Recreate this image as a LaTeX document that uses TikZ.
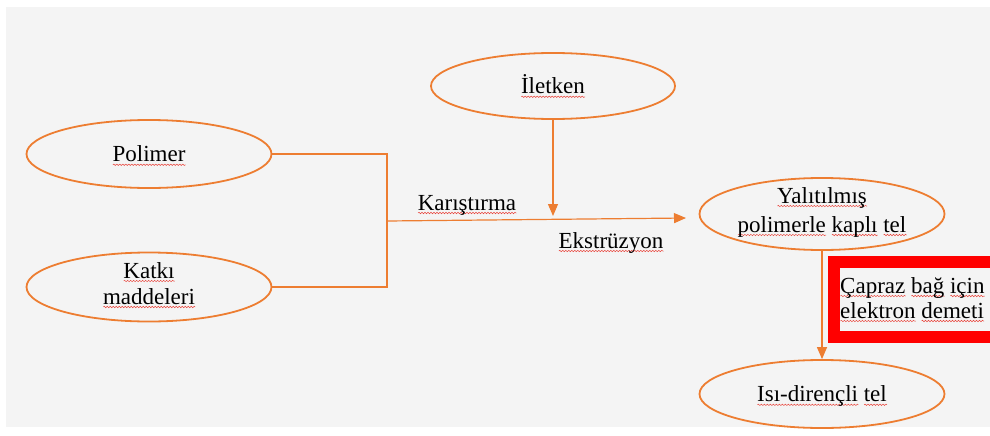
\documentclass[tikz,border=0pt]{standalone}
\usepackage{fontspec}
\setmainfont{Liberation Serif}
\usetikzlibrary{arrows.meta,shapes.geometric,decorations.pathmorphing}
\definecolor{bgray}{HTML}{F4F4F4}
\definecolor{orng}{HTML}{ED7D31}
\definecolor{sqred}{HTML}{E8453C}
\newsavebox\sqbox
\newcommand\sq[1]{\leavevmode\sbox\sqbox{#1}\edef\sqwd{\the\wd\sqbox}\rlap{\tikz[baseline=0pt]\draw[sqline] (0pt,-3pt) -- (\sqwd,-3pt);}\usebox\sqbox}
\tikzset{
  sqline/.style={draw=sqred, line width=0.5pt, decorate, decoration={snake, amplitude=0.7pt, segment length=3pt}},
  oval/.style={ellipse, draw=orng, line width=1.8pt, minimum width=245pt, minimum height=68pt, inner sep=0pt, align=center, font=\fontsize{23}{26}\selectfont},
  conn/.style={draw=orng, line width=1.2pt},
  arr/.style={conn, -{Triangle[length=12pt,width=10pt]}},
  lbl/.style={inner sep=0pt, anchor=base, font=\fontsize{23}{26}\selectfont},
}
\begin{document}
\begin{tikzpicture}[x=1pt,y=-1pt]
\useasboundingbox (0,0) rectangle (990,436);
\fill[bgray] (6,7) rectangle (990,427);
% red frame (open to the right)
\fill[red] (828,256) rectangle (990,268);
\fill[red] (828,331) rectangle (990,343);
\fill[red] (828,256) rectangle (840,343);
% ellipses
\node[oval, minimum width=244pt, minimum height=66pt] (ilet) at (553,86) {\smash{\sq{İletken}}\rule{0pt}{15.6pt}};
\node[oval] (pol) at (149,154) {\smash{\sq{Polimer}}\rule{0pt}{15.6pt}};
\node[oval, minimum height=69pt, font=\fontsize{23}{26}\selectfont] (kat) at (149,287) {\smash{\sq{Katkı}}\rule{0pt}{8pt}\\\smash{\sq{maddeleri}}};
\node[oval, minimum height=72pt, font=\fontsize{23}{29}\selectfont] (yal) at (822,214) {\smash{\sq{Yalıtılmış}}\rule{0pt}{7pt}\\\smash{\sq{polimerle} \sq{kaplı} \sq{tel}}};
\node[oval] (isi) at (822,394) {\smash{\sq{Isı-dirençli} \sq{tel}}\rule{0pt}{15.6pt}};
% connector points
\coordinate (j) at (387,221);
\coordinate (mixend) at (686,218);
\coordinate (ilend) at (553,216);
% connectors
\draw[conn] (pol.east) -| (j);
\draw[conn] (kat.east) -| (j);
\draw[arr] (j) -- (mixend);
\draw[arr] (ilet.south) -- (ilend);
\draw[arr] (yal.south) -- (isi.north);
% labels
\node[lbl] (kar) at (467,210) {\sq{Karıştırma}};
\node[lbl] (eks) at (611,248) {\sq{Ekstrüzyon}};
\node[lbl, anchor=west, align=left, font=\fontsize{23}{25}\selectfont] (ebox) at (840,305.5) {\smash{\sq{Çapraz} \sq{bağ} \sq{için}}\\\smash{\sq{elektron} \sq{demeti}}};
\end{tikzpicture}
\end{document}
